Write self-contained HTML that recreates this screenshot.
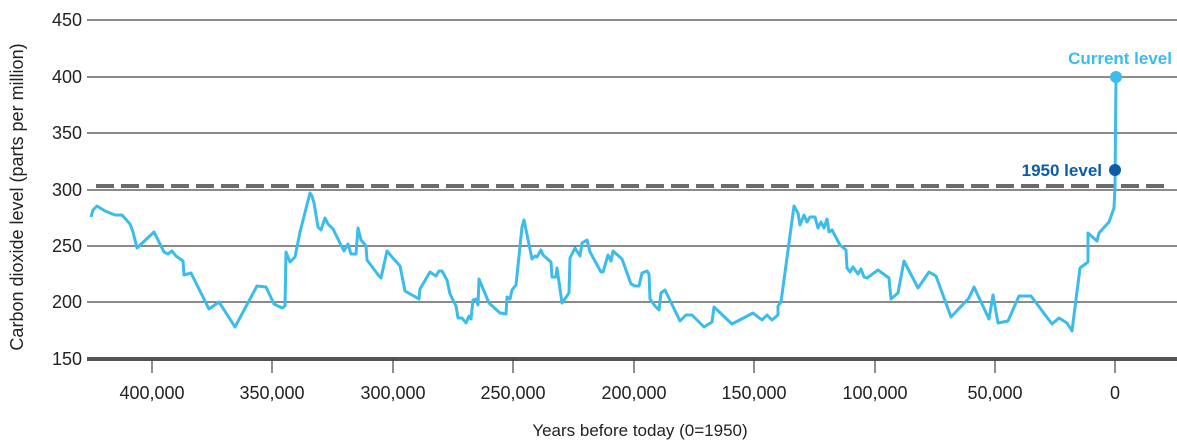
<!DOCTYPE html>
<html><head><meta charset="utf-8"><style>
body{margin:0;background:#fff;}
svg{display:block;font-family:"Liberation Sans",sans-serif;}
</style></head><body>
<svg width="1177" height="440" viewBox="0 0 1177 440">
<g stroke="#444" stroke-width="1.2">
<line x1="87" y1="20" x2="1177" y2="20"/>
<line x1="87" y1="77" x2="1177" y2="77"/>
<line x1="87" y1="133" x2="1177" y2="133"/>
<line x1="87" y1="190" x2="1177" y2="190"/>
<line x1="87" y1="246" x2="1177" y2="246"/>
<line x1="87" y1="302" x2="1177" y2="302"/>
</g>
<line x1="87" y1="359" x2="1177" y2="359" stroke="#555" stroke-width="4"/>
<g stroke="#444" stroke-width="1.2">
<line x1="152" y1="359" x2="152" y2="373"/><line x1="272" y1="359" x2="272" y2="373"/>
<line x1="393" y1="359" x2="393" y2="373"/><line x1="513" y1="359" x2="513" y2="373"/>
<line x1="634" y1="359" x2="634" y2="373"/><line x1="754" y1="359" x2="754" y2="373"/>
<line x1="875" y1="359" x2="875" y2="373"/><line x1="995" y1="359" x2="995" y2="373"/>
<line x1="1115" y1="359" x2="1115" y2="373"/>
</g>
<line x1="96" y1="186" x2="1170" y2="186" stroke="#6a6a6a" stroke-width="4" stroke-dasharray="18,7"/>
<g font-size="18" fill="#222" text-anchor="end">
<text x="82" y="26">450</text><text x="82" y="83">400</text><text x="82" y="139">350</text>
<text x="82" y="196">300</text><text x="82" y="252">250</text><text x="82" y="308">200</text>
<text x="82" y="365">150</text>
</g>
<g font-size="18" fill="#222" text-anchor="middle">
<text x="152" y="399">400,000</text><text x="272" y="399">350,000</text><text x="393" y="399">300,000</text>
<text x="513" y="399">250,000</text><text x="634" y="399">200,000</text><text x="754" y="399">150,000</text>
<text x="875" y="399">100,000</text><text x="995" y="399">50,000</text><text x="1115" y="399">0</text>
</g>
<text x="640" y="436" font-size="17" fill="#222" text-anchor="middle">Years before today (0=1950)</text>
<text transform="translate(23,197) rotate(-90)" font-size="18" fill="#222" text-anchor="middle">Carbon dioxide level (parts per million)</text>
<polyline fill="none" stroke="#3bbcea" stroke-width="3" stroke-linejoin="round" points="91,217 93,210 97,206 105,211 110,213 115,215 122,215 130,224 133,232 137,248 154,232 164,252 168,254 172,251 176,256 183,261 184,275 191,273 209,309 219,302 235,327 257,286 266,287 274,304 282,308 285,306 286,252 290,262 295,257 300,232 310,193 312,196 314,203 318,227 321,230 325,218 328,224 333,229 344,251 348,244 351,254 356,254 358,228 361,240 366,246 367,260 379,276 381,278 387,251 392,257 400,266 405,291 419,299 420,289 430,272 436,276 439,271 442,271 447,280 450,294 456,306 458,318 462,318 466,323 469,316 471,319 473,300 476,299 478,305 479,279 489,303 500,313 506,314 507,297 510,299 512,290 516,285 522,227 524,220 532,259 535,256 537,257 541,250 543,255 551,262 552,277 556,277 557,268 562,303 569,293 570,258 575,248 580,256 582,243 587,240 590,252 601,272 603,272 608,255 611,261 613,251 622,259 631,284 635,286 639,286 642,273 647,271 649,274 650,299 655,306 659,310 661,293 665,290 680,321 686,315 692,315 704,327 712,322 714,307 732,324 753,313 762,320 767,315 772,320 778,315 778,306 781,302 794,206 798,213 800,225 804,215 807,222 810,217 815,217 818,228 821,222 824,228 827,219 829,232 832,230 840,245 846,250 847,268 850,272 853,267 858,274 861,269 864,277 867,278 878,270 889,278 891,299 898,293 904,261 918,288 929,272 936,276 951,317 969,298 974,287 989,319 993,295 998,323 1008,321 1019,296 1031,296 1052,324 1059,318 1067,323 1072,331 1080,268 1088,262 1088,233 1097,241 1099,233 1109,222 1114,208 1115,187 1116,77"/>
<circle cx="1116" cy="77" r="6" fill="#3bbcea"/>
<circle cx="1115" cy="170" r="6" fill="#0a5ca8"/>
<text x="1172" y="64" font-size="17" font-weight="bold" fill="#3bbcea" text-anchor="end">Current level</text>
<text x="1102" y="176" font-size="17" font-weight="bold" fill="#0a5ca8" text-anchor="end">1950 level</text>
</svg>
</body></html>
